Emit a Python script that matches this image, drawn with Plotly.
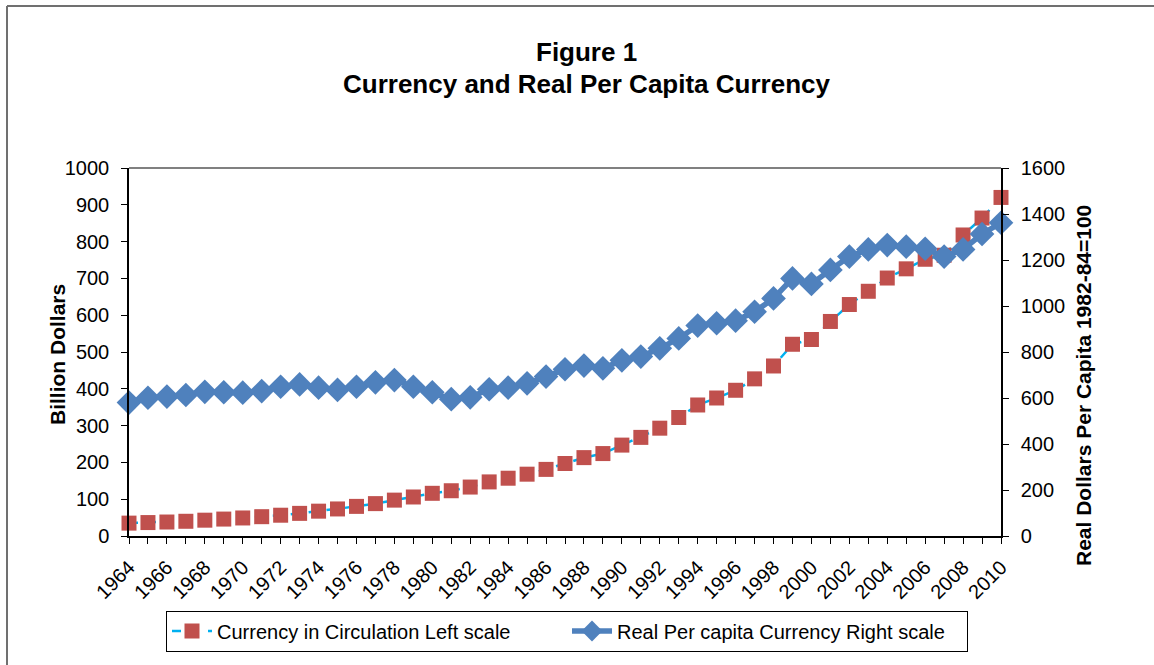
import plotly.graph_objects as go

years = list(range(1964, 2011))
currency = [35, 36.5, 38, 40, 43, 46, 49, 52.5, 56.5, 61.5, 67.5, 73.5, 80.5, 88, 97.5, 106,
            116, 123, 133, 147, 157, 168, 181, 197, 213, 224, 247, 268, 293, 322, 356,
            375, 396, 427, 462, 521, 534, 583, 629, 665, 701, 726, 752, 763, 818, 864, 920]
real_per_capita = [580, 601, 606, 613, 627, 625, 623, 630, 649, 659, 645, 635, 649, 668, 678, 649,
                   625, 595, 603, 638, 645, 664, 693, 725, 741, 729, 764, 780, 816, 859, 915,
                   925, 936, 975, 1033, 1120, 1096, 1157, 1215, 1246, 1265, 1258, 1249, 1215,
                   1246, 1313, 1362]
tick_labels = [str(y) if (y - 1964) % 2 == 0 else "" for y in years]
left_ticks = list(range(0, 1001, 100))
right_ticks = list(range(0, 1601, 200))

FONT = "Liberation Sans, Arial, sans-serif"
PX0, PW = 129, 872     # plot area left / width (px)
PY0, PH = 536, 368     # plot area bottom / height (px)


def px(x):
    return (x - PX0) / PW


def py(y):
    return (PY0 - y) / PH


fig = go.Figure()
fig.add_trace(go.Scatter(
    x=years, y=currency, name="Currency in Circulation Left scale",
    mode="lines+markers",
    line=dict(color="#00B0F0", width=2.5, dash="dash"),
    marker=dict(symbol="square", size=15, color="#C0504D"),
    cliponaxis=False, yaxis="y"))
fig.add_trace(go.Scatter(
    x=years, y=real_per_capita, name="Real Per capita Currency Right scale",
    mode="lines+markers",
    line=dict(color="#4F81BD", width=5.5),
    marker=dict(symbol="diamond", size=19, color="#4F81BD"),
    cliponaxis=False, yaxis="y2"))

axis_common = dict(showgrid=False, zeroline=False, showline=True, linecolor="black",
                   linewidth=1.5, ticks="outside", ticklen=6, tickcolor="black",
                   tickfont=dict(family=FONT, size=20))

fig.update_layout(
    width=1154, height=665,
    margin=dict(l=129, r=153, t=168, b=129, autoexpand=False),
    paper_bgcolor="white", plot_bgcolor="white",
    font=dict(family=FONT, size=20, color="black"),
    showlegend=True,
    legend=dict(orientation="h", x=px(567), xanchor="center", y=py(631), yanchor="middle",
                bordercolor="black", borderwidth=1, bgcolor="white",
                font=dict(family=FONT, size=20), itemwidth=40,
                entrywidth=345, entrywidthmode="pixels"),
    xaxis=dict(range=[1964, 2010], tickmode="array", tickvals=years, ticktext=tick_labels,
               tickangle=-45, ticklabelstandoff=4, **axis_common),
    yaxis=dict(range=[0, 1000], tickmode="array", tickvals=left_ticks,
               ticklabelstandoff=8, **axis_common),
    yaxis2=dict(range=[0, 1600], tickmode="array", tickvals=right_ticks,
                overlaying="y", side="right", ticklabelstandoff=8, **axis_common),
)

# plot-area top border and outer chart border
fig.add_shape(type="line", xref="paper", yref="paper", x0=0, x1=1, y0=1, y1=1,
              line=dict(color="#808080", width=2), layer="below")
fig.add_shape(type="line", xref="paper", yref="paper",
              x0=px(7), x1=px(7), y0=py(6), y1=py(700),
              line=dict(color="#707070", width=2))
fig.add_shape(type="line", xref="paper", yref="paper",
              x0=px(7), x1=px(1160), y0=py(6), y1=py(6),
              line=dict(color="#707070", width=2))

fig.add_annotation(text="<b>Figure 1</b>", xref="paper", yref="paper",
                   x=px(586), y=py(52), showarrow=False,
                   xanchor="center", yanchor="middle", font=dict(family=FONT, size=26))
fig.add_annotation(text="<b>Currency and Real Per Capita Currency</b>", xref="paper", yref="paper",
                   x=px(586), y=py(84), showarrow=False,
                   xanchor="center", yanchor="middle", font=dict(family=FONT, size=26))
fig.add_annotation(text="<b>Billion Dollars</b>", xref="paper", yref="paper",
                   x=px(57), y=py(355), showarrow=False, textangle=-90,
                   xanchor="center", yanchor="middle", font=dict(family=FONT, size=21))
fig.add_annotation(text="<b>Real Dollars Per Capita 1982-84=100</b>", xref="paper", yref="paper",
                   x=px(1083), y=py(386), showarrow=False, textangle=-90,
                   xanchor="center", yanchor="middle", font=dict(family=FONT, size=21))

fig.write_html("out.html", config={"displayModeBar": False},
               post_script="document.body.style.margin='0';")
